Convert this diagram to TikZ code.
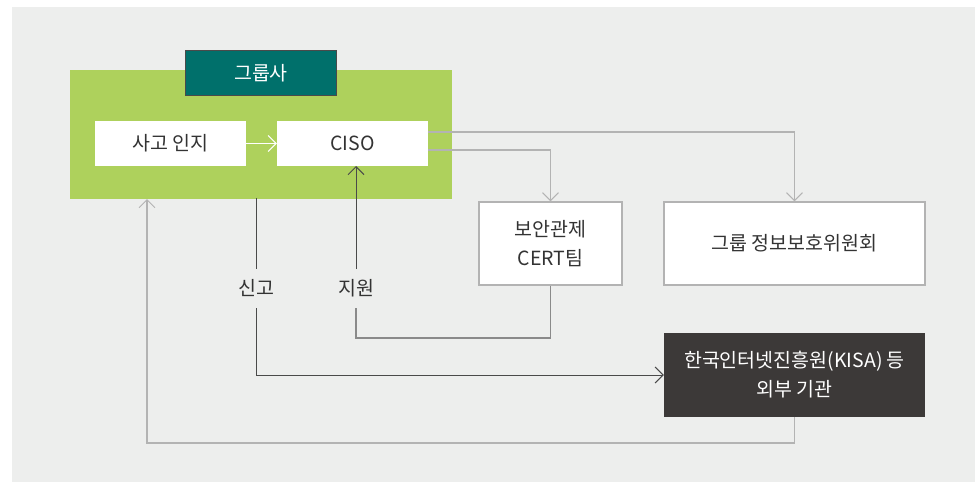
\documentclass[tikz,border=0pt]{standalone}
\usepackage{fontspec}
\setmainfont{Noto Sans CJK KR}
\usetikzlibrary{arrows.meta}
\definecolor{bg}{HTML}{EDEEED}
\definecolor{grn}{HTML}{AED15C}
\definecolor{teal}{HTML}{00706B}
\definecolor{dbox}{HTML}{3C3938}
\definecolor{txt}{HTML}{333333}
\definecolor{lgray}{HTML}{B3B3B3}
\definecolor{mgray}{HTML}{8A8A8A}
\definecolor{dgray}{HTML}{4A4A4A}
\tikzset{
  box/.style={draw=lgray, line width=1.2pt, fill=white, minimum width=#1, inner sep=0pt, align=center, text=txt, font=\fontsize{19.5}{29}\selectfont},
  box/.default=100pt,
  wbox/.style={fill=white, inner sep=0pt, minimum width=151pt, minimum height=45pt, text=txt, font=\fontsize{19.5}{24}\selectfont},
  lbl/.style={text=txt, font=\fontsize{19.5}{24}\selectfont, inner sep=0pt},
  tip/.style={-{Straight Barb[length=8pt,width=16pt,line width=1pt]}},
}
\begin{document}
\begin{tikzpicture}[x=1pt,y=-1pt]
\useasboundingbox (0,0) rectangle (975,482);
\fill[bg] (12,7) rectangle (975,482);
% green group
\node[fill=grn, minimum width=382pt, minimum height=129pt, inner sep=0pt] (grp) at (261,134.5) {};
\node[fill=teal, draw=dgray, line width=1.2pt, minimum width=151pt, minimum height=45pt, inner sep=0pt, text=white, font=\fontsize{19.5}{24}\selectfont] (title) at (261,73) {그룹사};
\node[wbox] (aware) at (170.5,143.5) {사고 인지};
\node[wbox] (ciso) at (352.5,143.5) {CISO};
% right boxes
\node[box=143pt, minimum height=83pt] (cert) at (550.5,243.5) {보안관제\\CERT팀};
\node[box=261pt, minimum height=83pt] (comm) at (794.5,243.5) {그룹 정보보호위원회};
\node[fill=dbox, minimum width=261pt, minimum height=84pt, inner sep=0pt, align=center, text=white, font=\fontsize{19.5}{29}\selectfont] (kisa) at (794.5,375) {한국인터넷진흥원(KISA) 등\\외부 기관};
% labels
\node[lbl] (report) at (256,288.5) {신고};
\node[lbl] (support) at (356,288.5) {지원};
% coordinates
\coordinate (c1) at (428,132);
\coordinate (c2) at (428,150);
\coordinate (r1) at (256,198);
\coordinate (s1) at (356,166);
\coordinate (b1) at (147,199);
% connectors
\draw[white, line width=1pt, tip] (aware) -- (ciso);
\draw[lgray, line width=1.2pt, tip] (c1) -| (comm.north);
\draw[lgray, line width=1.2pt, tip] (c2) -| (cert.north);
\draw[dgray, line width=1pt] (r1) -- (256,269);
\draw[dgray, line width=1pt, tip] (256,308) |- (kisa.west);
\draw[mgray, line width=1.2pt] (cert.south) |- (356,338) -- (356,308);
\draw[dgray, line width=1pt, tip] (356,269) -- (s1);
\draw[lgray, line width=1.2pt, tip] (kisa.south) |- (147,443) -- (b1);
\end{tikzpicture}
\end{document}
